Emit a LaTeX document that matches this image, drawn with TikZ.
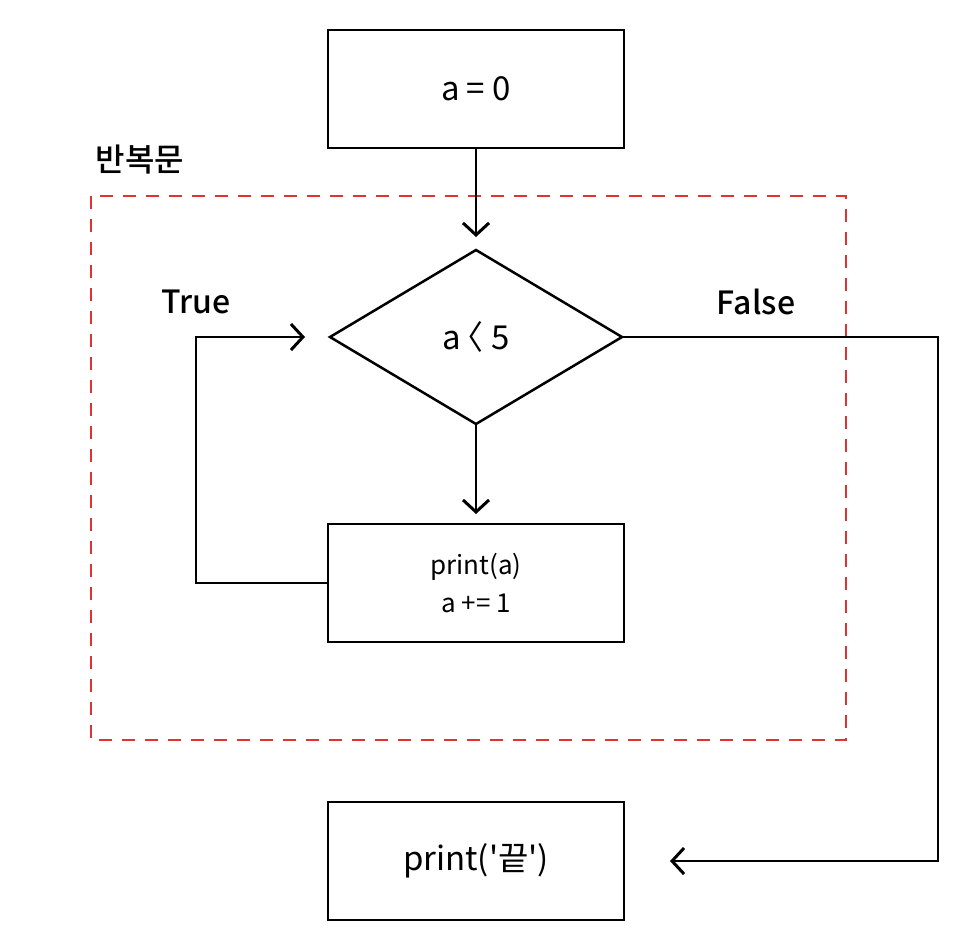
\documentclass[tikz,border=0pt]{standalone}
\usepackage{fontspec}
\newfontfamily\kofont{Noto Sans CJK KR}
\newfontfamily\kobold{Noto Sans CJK KR Medium}
\usetikzlibrary{shapes.geometric,arrows.meta}
\definecolor{loopred}{RGB}{222,52,48}
\tikzset{
  stepbox/.style={draw,line width=2.5pt,minimum width=296pt,minimum height=118pt,
    inner sep=0pt,outer sep=0pt,font={\kofont\fontsize{33}{38}\selectfont}},
  decision/.style={draw,diamond,line width=2.5pt,aspect=1.68,minimum width=292pt,
    minimum height=174pt,inner sep=0pt,outer sep=0pt,font={\kofont\fontsize{33}{38}\selectfont}},
  tag/.style={font={\kobold\fontsize{32}{38}\selectfont}},
  flow/.style={line width=2.5pt,-{Straight Barb[length=12pt,width=26pt,line width=3pt]}},
  loopbox/.style={draw=loopred,line width=2.5pt,dash pattern=on 13pt off 10pt}
}
\begin{document}
\begin{tikzpicture}[x=1pt,y=-1pt]
      \useasboundingbox (0,0) rectangle (974,946);
      \draw[loopbox] (91,196) rectangle (846,740);
      \node[stepbox] (init) at (476,89) {a = 0};
      \node[decision] (cond) at (476,337) {a\hspace{-0.3em}〈 5};
      \node[stepbox,align=center,font={\kofont\fontsize{26}{38}\selectfont}]
        (body) at (476,583) {print(a)\\a += 1};
      \node[stepbox] (done) at (476,861) {print('끝')};
      \node[tag] (looplbl) at (140,160) {반복문};
      \node[tag] (truelbl) at (196,302) {True};
      \node[tag] (falselbl) at (756,302) {False};
      \begin{scope}[flow]
        \draw[shorten >=13pt] (init) to (cond);
        \draw[shorten >=10pt] (cond) to (body);
        \draw[shorten >=25pt] (body.west) -- ++(-132,0) |- (cond.west);
        \draw[shorten >=46pt] (cond.east) -- ++(316,0) |- (done.east);
      \end{scope}
    \end{tikzpicture}
\end{document}
